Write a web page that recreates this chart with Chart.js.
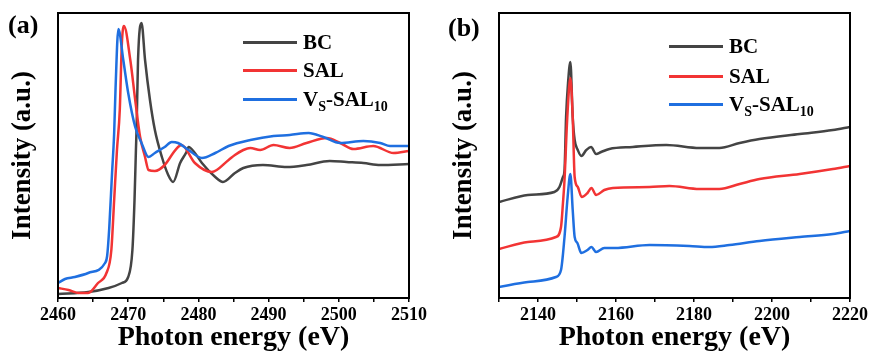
<!DOCTYPE html>
<html>
<head>
<meta charset="utf-8">
<script src="https://cdn.jsdelivr.net/npm/chart.js@4.4.0/dist/chart.umd.min.js"></script>
<style>
  body { margin: 0; background: #fff; }
  #wrap { position: relative; width: 872px; height: 356px; font-family: "Liberation Serif", "Times New Roman", serif; font-weight: bold; color: #000; }
  .panel { position: absolute; top: 0; width: 436px; height: 356px; }
  .tag { position: absolute; font-size: 26px; line-height: 26px; }
  .leg { position: absolute; display: flex; align-items: center; font-size: 21px; line-height: 21px; white-space: nowrap; }
  .leg i { display: inline-block; width: 54px; height: 3px; margin-right: 6px; }
  .leg sub { font-size: 14px; vertical-align: -5px; line-height: 0; }
</style>
</head>
<body>
<div id="wrap">
  <div class="panel" style="left:0"><canvas id="chartA" width="436" height="356"></canvas></div>
  <div class="panel" style="left:436px"><canvas id="chartB" width="436" height="356"></canvas></div>

  <div class="tag" style="left:8px;top:12px">(a)</div>
  <div class="tag" style="left:448px;top:15px">(b)</div>

  <div class="leg" style="left:243px;top:32px"><i style="background:#444444"></i><span>BC</span></div>
  <div class="leg" style="left:243px;top:60px"><i style="background:#f23434"></i><span>SAL</span></div>
  <div class="leg" style="left:243px;top:89px"><i style="background:#1f6fe0"></i><span>V<sub>S</sub>-SAL<sub>10</sub></span></div>

  <div class="leg" style="left:669px;top:36px"><i style="background:#444444"></i><span>BC</span></div>
  <div class="leg" style="left:669px;top:66px"><i style="background:#f23434"></i><span>SAL</span></div>
  <div class="leg" style="left:669px;top:94px"><i style="background:#1f6fe0"></i><span>V<sub>S</sub>-SAL<sub>10</sub></span></div>
</div>
<script>
// (a) S K-edge region
var bcEnergyA = [2460.0, 2464.3, 2467.2, 2469.1, 2470.0, 2470.6, 2470.9, 2471.1, 2471.2, 2471.4, 2471.9, 2472.4, 2473.1, 2473.8, 2474.8, 2475.7, 2476.4, 2477.4, 2478.3, 2478.6, 2479.5, 2480.5, 2482.4, 2483.5, 2485.2, 2486.4, 2489.2, 2492.6, 2495.4, 2498.7, 2501.1, 2503.5, 2505.9, 2510.0];
var bcIntensityA = [4, 6, 10, 15, 21, 48, 98, 148, 171, 238, 275, 238, 198, 168, 141, 123, 116, 135, 146, 151, 145, 135, 121, 116, 125, 130, 133, 131, 133, 137, 136, 135, 133, 134];

var salEnergyA = [2460.0, 2461.5, 2463.0, 2464.3, 2465.7, 2466.9, 2467.6, 2468.0, 2468.4, 2468.8, 2469.1, 2469.4, 2470.3, 2471.0, 2471.7, 2472.4, 2472.9, 2473.8, 2475.2, 2476.4, 2477.1, 2477.6, 2479.5, 2481.9, 2484.3, 2485.2, 2486.4, 2487.4, 2488.8, 2490.7, 2493.0, 2495.4, 2498.3, 2500.2, 2502.1, 2504.9, 2507.8, 2510.0];
var salIntensityA = [10, 8, 5, 5, 15, 25, 48, 98, 148, 188, 255, 272, 238, 198, 161, 141, 128, 127, 133, 145, 151, 153, 135, 126, 138, 143, 148, 150, 148, 153, 150, 155, 160, 155, 149, 152, 145, 147];

var vsEnergyA = [2460.0, 2461.0, 2462.4, 2464.3, 2466.7, 2467.0, 2467.3, 2467.7, 2468.0, 2468.2, 2468.6, 2469.3, 2470.0, 2471.0, 2471.9, 2472.9, 2473.8, 2475.2, 2476.2, 2477.1, 2478.6, 2480.5, 2482.4, 2484.3, 2487.4, 2490.7, 2493.0, 2495.7, 2497.8, 2500.2, 2503.5, 2505.9, 2507.3, 2510.0];
var vsIntensityA = [15, 19, 21, 25, 35, 42, 70, 125, 165, 210, 269, 238, 205, 171, 155, 141, 145, 151, 156, 155, 148, 140, 145, 152, 158, 162, 163, 165, 161, 155, 157, 155, 152, 152];

// (b) wide scan
var bcEnergyB = [2130.0, 2137.4, 2144.2, 2145.5, 2146.4, 2146.8, 2147.2, 2147.7, 2148.3, 2148.9, 2149.4, 2150.2, 2151.1, 2152.4, 2153.6, 2154.9, 2156.2, 2158.3, 2164.3, 2172.9, 2181.4, 2186.5, 2191.7, 2196.8, 2207.1, 2215.6, 2220.0];
var bcIntensityB = [96, 103, 106, 111, 121, 128, 181, 215, 236, 181, 158, 148, 142, 148, 151, 144, 146, 149, 151, 153, 150, 150, 155, 159, 164, 168, 171];

var salEnergyB = [2130.0, 2137.4, 2144.6, 2145.9, 2146.4, 2146.8, 2147.5, 2148.3, 2148.9, 2149.4, 2150.2, 2151.2, 2152.7, 2153.7, 2154.9, 2157.0, 2159.2, 2168.6, 2173.7, 2181.4, 2186.5, 2191.7, 2196.8, 2207.1, 2215.6, 2220.0];
var salIntensityB = [49, 56, 61, 71, 95, 118, 180, 220, 181, 121, 111, 101, 105, 110, 103, 108, 110, 111, 112, 109, 109, 114, 119, 124, 129, 132];

var vsEnergyB = [2130.0, 2137.4, 2144.6, 2145.9, 2146.8, 2147.6, 2148.3, 2148.9, 2149.4, 2150.1, 2151.1, 2152.7, 2153.7, 2154.9, 2157.0, 2159.7, 2168.6, 2178.8, 2183.9, 2189.1, 2196.8, 2207.1, 2215.6, 2220.0];
var vsIntensityB = [11, 16, 21, 28, 61, 101, 124, 88, 61, 55, 45, 48, 51, 46, 50, 50, 53, 52, 51, 53, 57, 61, 64, 67];

var seriesNames = ['BC', 'SAL', 'VS-SAL10'];
var seriesColors = ['#444444', '#f23434', '#1f6fe0'];

var fontFamily = '"Liberation Serif", "Times New Roman", serif';

function toPoints(xs, ys) {
    return xs.map(function (x, i) { return { x: x, y: ys[i] }; });
}

// black box around the plot area
var framePlugin = {
    id: 'frame',
    afterDraw: function (chart) {
        var a = chart.chartArea, ctx = chart.ctx;
        ctx.save();
        ctx.strokeStyle = '#000';
        ctx.lineWidth = 2;
        ctx.strokeRect(a.left, a.top, a.right - a.left, a.bottom - a.top);
        ctx.restore();
    }
};

function makeChart(id, series, opt) {
    var datasets = series.map(function (s, i) {
        return {
            label: seriesNames[i],
            data: toPoints(s[0], s[1]),
            borderColor: seriesColors[i],
            order: 3 - i
        };
    });
    return new Chart(document.getElementById(id), {
        type: 'line',
        data: { datasets: datasets },
        options: {
            responsive: false,
            animation: false,
            layout: { padding: { top: 13, right: opt.padRight, left: 0, bottom: 0 } },
            plugins: { legend: { display: false }, tooltip: { enabled: false } },
            elements: {
                point: { radius: 0 },
                line: { borderWidth: 2.5, cubicInterpolationMode: 'monotone' }
            },
            scales: {
                x: {
                    type: 'linear',
                    min: opt.min,
                    max: opt.max,
                    ticks: {
                        stepSize: opt.step,
                        autoSkip: false,
                        maxRotation: 0,
                        padding: 3,
                        color: '#000',
                        font: { family: fontFamily, weight: 'bold', size: 18 },
                        callback: function (v) { return v % opt.labelStep === 0 ? String(v) : ''; }
                    },
                    grid: { display: true, drawOnChartArea: false, drawTicks: true, tickLength: 4, color: '#000', lineWidth: 1.5 },
                    border: { display: true, color: '#000', width: 2 },
                    title: {
                        display: true,
                        text: 'Photon energy (eV)',
                        color: '#000',
                        font: { family: fontFamily, weight: 'bold', size: 28 },
                        padding: { top: 0, bottom: 1 }
                    },
                    afterFit: function (s) { s.height = 58; }
                },
                y: {
                    min: 0,
                    max: 285,
                    ticks: { display: false },
                    grid: { display: false },
                    border: { display: true, color: '#000', width: 2 },
                    title: {
                        display: true,
                        text: 'Intensity (a.u.)',
                        color: '#000',
                        font: { family: fontFamily, weight: 'bold', size: 27 },
                        padding: { top: opt.titlePad, bottom: 0 }
                    },
                    afterFit: function (s) { s.width = opt.axisWidth; }
                }
            }
        },
        plugins: [framePlugin]
    });
}

makeChart('chartA',
    [[bcEnergyA, bcIntensityA], [salEnergyA, salIntensityA], [vsEnergyA, vsIntensityA]],
    { min: 2460, max: 2510, step: 5, labelStep: 10, padRight: 27, axisWidth: 58, titlePad: 7 });

makeChart('chartB',
    [[bcEnergyB, bcIntensityB], [salEnergyB, salIntensityB], [vsEnergyB, vsIntensityB]],
    { min: 2130, max: 2220, step: 10, labelStep: 20, padRight: 22, axisWidth: 63, titlePad: 12 });
</script>
</body>
</html>
